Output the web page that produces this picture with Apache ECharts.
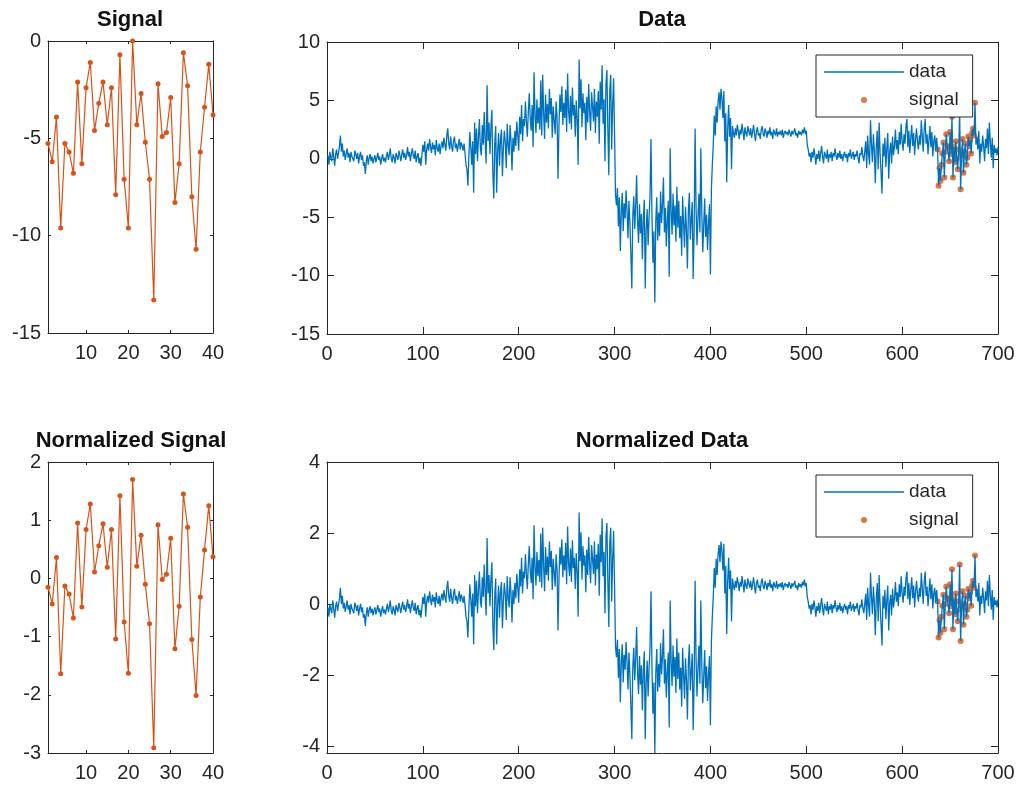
<!DOCTYPE html>
<html><head><meta charset="utf-8">
<script src="https://cdn.jsdelivr.net/npm/echarts@6/dist/echarts.min.js"></script>
<style>html,body{margin:0;padding:0;background:#fff}#c{width:1022px;height:794px}</style>
</head><body><div id="c"></div>
<script>
// ---- Signal (40 samples) ----
const signalValues = [-5.26,-6.2,-3.9,-9.6,-5.26,-5.7,-6.8,-2.1,-6.3,-2.4,
  -1.1,-4.6,-3.2,-2.1,-4.3,-2.4,-7.9,-0.7,-7.1,-9.6,
  0.0,-4.3,-2.7,-5.2,-7.1,-13.3,-2.2,-4.9,-4.7,-2.9,
  -8.3,-6.3,-0.6,-2.3,-8.0,-10.7,-5.7,-3.4,-1.2,-3.8];
const normSignalValues = [-0.15,-0.44,0.36,-1.64,-0.13,-0.27,-0.68,0.95,-0.49,0.84,
  1.28,0.11,0.56,0.94,0.19,0.84,-1.04,1.42,-0.75,-1.63,
  1.7,0.21,0.74,-0.1,-0.78,-2.91,0.92,-0.02,0.07,0.69,
  -1.21,-0.48,1.45,0.88,-1.05,-2.01,-0.32,0.49,1.25,0.37];

// ---- Data (700 samples): head, matched segment (signal dots), tail ----
const dataHead = [
0.3,-0.5,0.6,0.1,-0.2,0.9,0.2,-0.6,0.4,0.8,0.0,0.5,1.1,2.0,0.6,1.3,0.2,0.7,-0.1,0.4,
0.9,0.1,0.5,-0.3,0.6,0.2,0.3,-0.2,0.7,0.4,0.0,0.5,-0.4,0.2,0.6,-0.1,0.3,-0.6,-0.3,-1.3,
-0.2,0.3,-0.5,0.1,0.4,-0.2,0.2,-0.4,0.0,0.3,-0.3,0.1,0.5,-0.1,0.2,-0.5,0.0,0.4,-0.2,0.1,
-0.3,0.2,0.6,-0.1,0.3,0.9,0.0,-0.3,0.4,0.1,-0.4,0.5,0.2,-0.1,0.7,0.3,-0.2,0.4,0.8,0.1,
0.5,-0.1,0.3,1.0,0.2,0.6,-0.2,0.4,0.9,0.3,0.0,0.7,-0.3,0.2,0.5,-0.4,0.1,-0.6,0.3,1.2,
0.6,1.5,-0.5,0.8,1.3,0.7,1.7,1.0,0.5,1.4,0.8,1.2,0.3,1.6,0.9,0.6,1.3,0.4,1.1,1.5,
0.9,1.8,1.2,0.7,2.0,2.6,1.3,0.8,1.9,1.1,0.6,1.5,1.9,0.9,1.3,0.6,1.2,1.7,0.8,1.4,
1.1,0.7,1.3,0.5,-0.5,-0.9,-2.3,0.2,2.3,1.0,-0.5,1.5,-2.9,3.1,0.4,2.6,-0.2,1.8,3.4,0.9,
0.3,2.9,1.2,4.0,1.6,-0.4,6.3,1.5,3.1,0.4,2.7,4.2,-1.2,-3.4,1.3,2.8,-2.9,0.6,2.2,-0.6,
1.7,2.5,-1.5,0.9,2.4,1.4,-0.8,3.0,1.2,0.3,2.9,1.5,-1.0,1.8,0.6,2.4,1.1,3.2,2.0,0.7,
3.6,2.1,4.6,1.5,3.4,2.8,4.9,3.2,1.9,4.0,5.6,3.5,2.4,4.6,1.0,7.4,3.8,2.2,5.1,3.0,
4.4,2.5,6.7,2.0,7.2,3.9,1.7,5.5,3.1,4.7,2.6,6.0,3.8,5.2,1.8,4.5,3.3,2.1,4.9,3.6,
-1.7,2.8,5.5,4.0,6.2,2.9,4.8,3.5,5.9,2.3,7.3,4.1,3.0,5.4,2.5,6.1,3.7,4.6,1.9,5.0,
3.4,-0.5,8.5,4.3,6.8,2.7,5.6,3.9,4.8,1.6,5.3,3.1,6.4,4.0,2.4,5.7,4.5,3.2,6.0,2.2,
4.9,3.6,5.8,1.3,6.6,4.2,8.0,3.0,5.1,-0.2,6.4,7.6,2.5,-1.4,5.9,7.2,0.8,4.5,6.9,2.0,
-3.1,-4.0,-2.5,-5.8,-3.3,-7.9,-4.5,-2.9,-6.2,-3.8,-5.1,-2.7,-4.4,-6.8,-3.6,-5.5,-8.2,-11.1,-4.9,-3.2,
-6.0,-4.1,-1.4,-5.3,-7.2,-3.9,-6.4,-4.7,-8.6,-5.2,-3.5,-11.1,-6.1,-4.3,-7.4,-5.0,-3.1,1.7,-4.8,-8.9,
-6.2,-12.3,-5.4,-3.3,-7.0,-4.6,-6.6,-2.8,-5.5,-3.9,-1.6,-6.3,-4.2,-7.5,-5.3,-3.6,-10.1,0.9,-4.4,-6.5,
-3.0,-5.7,-4.0,-7.1,-2.4,-5.9,-3.6,-6.8,-4.9,-8.3,-3.2,-5.6,-7.6,-4.1,-6.0,-9.4,-4.5,-2.9,-6.9,-5.2,
-3.7,-10.3,-6.1,2.6,-4.2,-7.4,-5.0,-3.0,-6.3,0.9,-4.6,-8.0,-5.7,-3.4,-6.7,-4.8,-7.8,-5.5,-3.9,-9.9,
-2.6,-0.5,1.3,3.7,2.0,4.5,3.1,4.9,5.7,4.2,6.0,5.2,3.5,5.8,1.5,3.9,-2.0,2.5,4.6,1.9,
3.5,-0.9,2.8,2.2,1.8,2.6,2.0,2.9,2.4,1.7,2.5,2.1,3.0,2.3,1.6,2.7,2.2,1.9,2.8,2.4,
2.0,2.6,1.8,2.3,2.9,2.1,1.5,2.4,2.7,2.0,2.2,1.7,2.5,2.8,2.1,1.9,2.6,2.3,1.8,2.4,
2.1,2.7,2.0,2.3,1.7,2.5,2.2,2.0,2.6,1.9,2.3,2.1,2.4,2.0,2.5,1.8,2.2,2.4,2.1,2.3,
2.0,2.5,2.2,1.9,2.4,2.1,2.3,2.6,2.0,2.2,1.8,2.4,2.1,2.3,2.0,2.5,2.2,2.7,2.1,2.4,
1.2,0.8,0.2,0.5,-0.3,0.6,0.1,0.9,0.3,-0.5,0.4,0.0,0.7,-0.2,0.5,1.1,0.2,-0.4,0.6,0.3,
0.0,0.8,-0.3,0.4,0.1,0.6,-0.2,0.5,0.2,0.9,0.3,-0.1,0.5,0.1,0.7,0.0,0.4,-0.2,0.3,0.6,
0.1,0.4,-0.3,0.5,0.2,0.8,0.0,0.3,0.6,-0.1,0.4,0.2,0.7,0.1,-0.4,0.5,0.3,1.0,0.2,-0.2,
0.6,1.5,-0.8,2.0,0.4,-0.5,3.3,1.2,-0.3,2.1,0.7,-2.1,1.0,2.4,-0.9,3.1,0.5,-1.2,-3.0,1.3,
0.2,1.8,-0.7,0.9,2.2,-1.7,0.6,1.4,-0.4,1.9,0.3,1.1,2.5,0.8,1.6,0.4,2.3,1.2,3.0,1.5,
0.7,2.1,1.3,2.8,3.4,1.0,2.4,0.5,1.8,2.9,1.1,2.2,0.3,1.7,2.6,1.4,0.8,2.0,1.2,3.3,
1.9,0.6,2.5,3.4,1.3,2.1,0.4,1.6,2.8,1.0,2.3,0.2,1.5,2.0,0.7,1.8];
const matchStart = 637;
const matchValues = [0.8,-2.3,-0.8,-1.9,-0.5,0.45,1.4,-1.6,0.6,2.1,
  1.1,1.0,-0.2,2.3,0.4,3.6,-1.6,1.0,-0.3,1.5,
  0.0,-0.9,0.8,4.0,-2.6,0.4,1.7,-1.2,0.6,1.3,
  -0.5,0.1,1.9,1.1,1.6,0.45,2.2,2.6,2.0,4.8];
const dataTail = [1.2,1.9,0.8,2.4,-0.4,1.3,0.6,2.0,1.1,-0.2,1.7,0.9,2.6,0.4,3.1,1.4,0.1,1.8,-0.8,1.2,0.5,0.9,0.3,1.0];

const signalTicks = [10,20,30,40];
const normDataTicks = [-4,-2,0,2,4];

// ---- derived ----
const data = dataHead.concat(matchValues, dataTail);
const mean = data.reduce((a,b)=>a+b,0)/data.length;
const sd = Math.sqrt(data.reduce((a,b)=>a+(b-mean)*(b-mean),0)/(data.length-1));
const z = v => (v-mean)/sd;
const normData = data.map(z);
const normMatch = matchValues.map(z);

const dataPts = data.map((v,i)=>[i+1, v]);
const normDataPts = normData.map((v,i)=>[i+1, v]);
const matchPts = matchValues.map((v,k)=>[matchStart+k, v]);
const normMatchPts = normMatch.map((v,k)=>[matchStart+k, v]);
const sigPts = signalValues.map((v,k)=>[k+1, v]);
const normSigPts = normSignalValues.map((v,k)=>[k+1, v]);

const FONT = "'Liberation Sans', Arial, Helvetica, sans-serif";
const AX = '#262626', BLUE = '#0072BD', ORANGE = '#D95319';

function axes(dim, gi, min, max, interval, custom, tickLen){
  const base = {gridIndex: gi, type:'value', min:min, max:max, splitLine:{show:false},
    axisLine:{show:true, onZero:false, lineStyle:{color:AX, width:1}}};
  if (!custom) base.interval = interval;
  const tick = {show:true, inside:true, length:tickLen, lineStyle:{color:AX, width:1}};
  if (custom) tick.customValues = custom;
  const lab = {show:true, color:AX, fontSize:20, fontFamily:FONT, margin: dim==='x'?10:7};
  if (custom) lab.customValues = custom;
  const a = Object.assign({}, base, {position: dim==='x'?'bottom':'left', axisTick: tick, axisLabel: lab});
  const b = Object.assign({}, base, {position: dim==='x'?'top':'right', axisTick: tick, axisLabel:{show:false}});
  return [a,b];
}

const grids = [
  {left:48, top:41, width:165, height:292},
  {left:327, top:42, width:671, height:292},
  {left:48, top:462, width:165, height:291},
  {left:327, top:462, width:671, height:291}
];
const xAxis = [].concat(
  axes('x',0,1,40,null,signalTicks,3),
  axes('x',1,0,700,100,null,7),
  axes('x',2,1,40,null,signalTicks,3),
  axes('x',3,0,700,100,null,7));
const normMin = Math.min.apply(null, normData);
const yAxis = [].concat(
  axes('y',0,-15,0,5,null,3),
  axes('y',1,-15,10,5,null,7),
  axes('y',2,-3,2,1,null,3),
  axes('y',3,normMin,4,null,normDataTicks,7));

function title(text, cx, top){
  return {text:text, left:cx, top:top, textAlign:'center', padding:0,
    textStyle:{fontFamily:FONT, fontSize:22, fontWeight:'bold', color:'#111', lineHeight:24}};
}
function legend(top){
  return {left:816, top:top, orient:'vertical', itemWidth:80, itemHeight:6, itemGap:8,
    padding:[7,14,7,8], borderColor:AX, borderWidth:1, backgroundColor:'#fff',
    symbolKeepAspect:true,
    textStyle:{fontFamily:FONT, fontSize:19, color:AX, lineHeight:20},
    data:[{name:'data', icon:'path://M0,0H80V1.3H0Z'},{name:'signal', icon:'circle'}], selectedMode:false};
}

const option = {
  animation:false,
  backgroundColor:'#fff',
  title:[title('Signal',130,8), title('Data',662,8), title('Normalized Signal',131,429), title('Normalized Data',662,429)],
  legend:[legend(55), legend(475)],
  grid: grids,
  xAxis: xAxis,
  yAxis: yAxis,
  series:[
    {name:'sig', type:'line', xAxisIndex:0, yAxisIndex:0, data:sigPts, symbol:'circle', symbolSize:5, showAllSymbol:true,
     lineStyle:{color:ORANGE, width:1.2}, itemStyle:{color:ORANGE}},
    {name:'data', type:'line', xAxisIndex:2, yAxisIndex:2, data:dataPts, symbol:'none', sampling:null,
     lineStyle:{color:BLUE, width:1.3}, itemStyle:{color:BLUE}},
    {name:'signal', type:'scatter', xAxisIndex:2, yAxisIndex:2, data:matchPts, symbol:'circle', symbolSize:6,
     itemStyle:{color:ORANGE}},
    {name:'nsig', type:'line', xAxisIndex:4, yAxisIndex:4, data:normSigPts, symbol:'circle', symbolSize:5, showAllSymbol:true,
     lineStyle:{color:ORANGE, width:1.2}, itemStyle:{color:ORANGE}},
    {name:'data', type:'line', xAxisIndex:6, yAxisIndex:6, data:normDataPts, symbol:'none',
     lineStyle:{color:BLUE, width:1.3}, itemStyle:{color:BLUE}},
    {name:'signal', type:'scatter', xAxisIndex:6, yAxisIndex:6, data:normMatchPts, symbol:'circle', symbolSize:6,
     itemStyle:{color:ORANGE}}
  ]
};
const chart = echarts.init(document.getElementById('c'), null, {renderer:'canvas'});
chart.setOption(option);
</script>
</body></html>
